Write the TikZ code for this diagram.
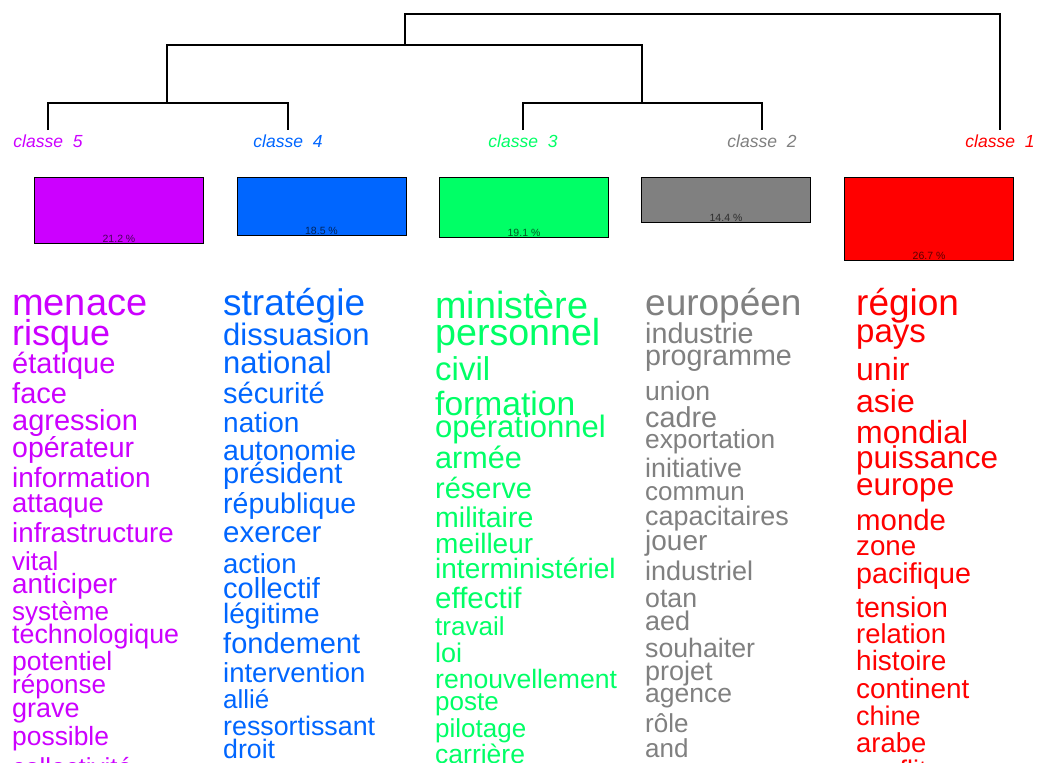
\documentclass[tikz,border=0pt]{standalone}
\usepackage{fontspec}
\setmainfont{Liberation Sans}
\usepackage{xcolor}
\usetikzlibrary{positioning}
\definecolor{classecinq}{HTML}{CC00FF}
\definecolor{classequatre}{HTML}{0066FF}
\definecolor{classetrois}{HTML}{00FF66}
\definecolor{classedeux}{HTML}{808080}
\definecolor{classeun}{HTML}{FF0000}
\tikzstyle{dendro} = [draw=black, line width=1.3pt]
\tikzstyle{classlabel} = [anchor=base, inner sep=0pt, font=\fontsize{17.5}{17.5}\selectfont\itshape]
\tikzstyle{classbox} = [rectangle, anchor=north, draw=black, line width=1pt,
                        minimum width=169pt, inner sep=0pt]
\tikzstyle{pct} = [anchor=south, inner sep=1.5pt, text=black, text opacity=0.65,
                   font=\fontsize{10.5}{10.5}\selectfont]
\tikzstyle{word} = [anchor=base west, inner sep=0pt]

\begin{document}
\begin{tikzpicture}[x=1pt, y=-1pt]
\clip (0,0) rectangle (1037,763);
\fill[white] (0,0) rectangle (1037,763);

% dendrogram
\coordinate (l5) at (48,130);
\coordinate (l4) at (288,130);
\coordinate (l3) at (523,130);
\coordinate (l2) at (762,130);
\coordinate (l1) at (1000,130);
\coordinate (m54) at (167,103);
\coordinate (m32) at (642,103);
\coordinate (m5432) at (405,45);
\coordinate (top) at (405,14);
\draw[dendro] (l5) |- (m54) -| (l4);
\draw[dendro] (l3) |- (m32) -| (l2);
\draw[dendro] (m54) |- (m5432) -| (m32);
\draw[dendro] (m5432) |- (top) -| (l1);

% class labels
\node[classlabel, text=classecinq] (t5) at (48,147) {classe\ \ 5};
\node[classlabel, text=classequatre] (t4) at (288,147) {classe\ \ 4};
\node[classlabel, text=classetrois] (t3) at (523,147) {classe\ \ 3};
\node[classlabel, text=classedeux] (t2) at (762,147) {classe\ \ 2};
\node[classlabel, text=classeun] (t1) at (1000,147) {classe\ \ 1};

% boxes, height by share
\node[classbox, fill=classecinq, minimum height=66pt] (b5) at (119,177) {};
\node[classbox, fill=classequatre, minimum height=58pt] (b4) at (321.5,177) {};
\node[classbox, fill=classetrois, minimum height=60pt] (b3) at (524,177) {};
\node[classbox, fill=classedeux, minimum height=45pt] (b2) at (726,177) {};
\node[classbox, fill=classeun, minimum height=83pt] (b1) at (929,177) {};
\node[pct] (p5) at (b5.south) {21.2 \%};
\node[pct] (p4) at (b4.south) {18.5 \%};
\node[pct] (p3) at (b3.south) {19.1 \%};
\node[pct] (p2) at (b2.south) {14.4 \%};
\node[pct] (p1) at (b1.south) {26.7 \%};

% word lists
\foreach \w/\s/\y [count=\i] in {menace/38/315, risque/36/345, étatique/29/373,
    face/29/403, agression/29/430, opérateur/28.5/457, information/28/487,
    attaque/27.5/512, infrastructure/27.7/542, vital/26/570, anticiper/27.8/593,
    système/26/620, technologique/26.8/643, potentiel/26.5/670, réponse/26/693,
    grave/27/717, possible/26.4/745, collectivité/26/776}
  \node[word, text=classecinq, font=\fontsize{\s}{\s}\selectfont] (w5-\i) at (12,\y) {\w};
\foreach \w/\s/\y [count=\i] in {stratégie/37/315, dissuasion/31/345, national/31/373,
    sécurité/29/403, nation/28/432, autonomie/28.5/460, président/29/483,
    république/28.5/513, exercer/29.5/542, action/27.5/573, collectif/29/598,
    légitime/28/623, fondement/29/653, intervention/27.5/682, allié/26/708,
    ressortissant/26.8/735, droit/26.7/758}
  \node[word, text=classequatre, font=\fontsize{\s}{\s}\selectfont] (w4-\i) at (223,\y) {\w};
\foreach \w/\s/\y [count=\i] in {ministère/37.8/318, personnel/37.6/345, civil/33/380,
    formation/33.6/415, opérationnel/31/437, armée/30.6/468, réserve/29/498,
    militaire/28.5/527, meilleur/28/553, interministériel/28/578, effectif/29.5/608,
    travail/26/635, loi/27/662, renouvellement/26.6/688, poste/26/710,
    pilotage/26/737, carrière/26.5/763}
  \node[word, text=classetrois, font=\fontsize{\s}{\s}\selectfont] (w3-\i) at (435,\y) {\w};
\foreach \w/\s/\y [count=\i] in {européen/37/315, industrie/28.7/343, programme/28.7/365,
    union/26.6/400, cadre/28.8/427, exportation/26.3/448, initiative/26.8/477,
    commun/26/500, capacitaires/26.9/525, jouer/28/550, industriel/27/580,
    otan/26.7/607, aed/27/630, souhaiter/26.7/657, projet/27/680, agence/26.5/702,
    rôle/26/732, and/26/757}
  \node[word, text=classedeux, font=\fontsize{\s}{\s}\selectfont] (w2-\i) at (645,\y) {\w};
\foreach \w/\s/\y [count=\i] in {région/37/315, pays/33/342, unir/32/380, asie/32/412,
    mondial/32/443, puissance/31.5/468, europe/31.5/495, monde/29.4/530,
    zone/27.7/555, pacifique/28.7/583, tension/28.5/617, relation/27.4/643,
    histoire/28/670, continent/27.9/698, chine/27/725, arabe/27.4/752, conflit/27/779}
  \node[word, text=classeun, font=\fontsize{\s}{\s}\selectfont] (w1-\i) at (856,\y) {\w};
\end{tikzpicture}
\end{document}
